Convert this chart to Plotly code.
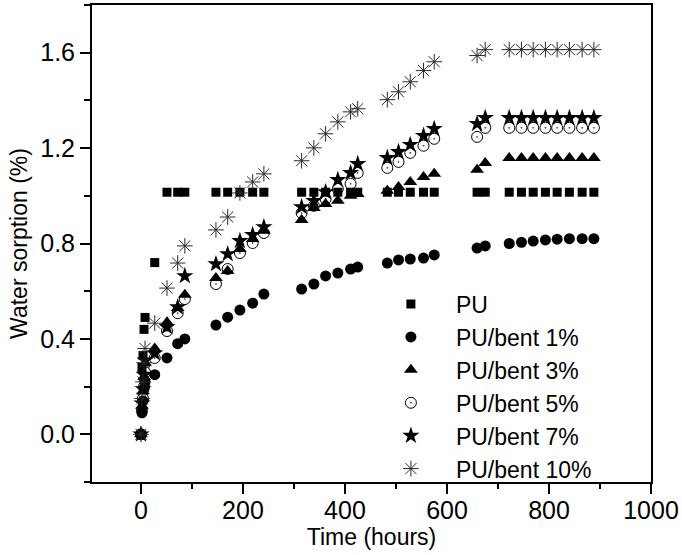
import plotly.graph_objects as go

# Time points (hours)
time_h = [0, 2, 4, 6, 8,
          27, 51, 72, 86,
          147, 170, 194, 219, 241,
          315, 339, 362, 386, 411, 425,
          483, 505, 528, 554, 575,
          659, 675,
          722, 746, 769, 793, 816, 840, 865, 888]

pu = [0, 0.28, 0.33, 0.44, 0.49,
      0.72, 1.015, 1.015, 1.015,
      1.015, 1.015, 1.015, 1.015, 1.015,
      1.015, 1.015, 1.015, 1.015, 1.015, 1.015,
      1.015, 1.015, 1.015, 1.015, 1.015,
      1.015, 1.015,
      1.015, 1.015, 1.015, 1.015, 1.015, 1.015, 1.015, 1.015]

bent1 = [0, 0.09, 0.14, 0.19, 0.22,
         0.25, 0.32, 0.38, 0.40,
         0.458, 0.491, 0.521, 0.550, 0.588,
         0.609, 0.630, 0.664, 0.676, 0.693, 0.701,
         0.718, 0.731, 0.735, 0.739, 0.752,
         0.781, 0.79,
         0.80, 0.805, 0.81, 0.815, 0.818, 0.82, 0.82, 0.82]

bent3 = [0, 0.12, 0.18, 0.24, 0.30,
         0.36, 0.47, 0.53, 0.585,
         0.655, 0.685, 0.777, 0.819, 0.853,
         0.899, 0.949, 0.966, 0.979, 1.0, 1.008,
         1.021, 1.037, 1.058, 1.079, 1.092,
         1.109, 1.138,
         1.159, 1.159, 1.159, 1.159, 1.159, 1.159, 1.159, 1.159]

bent5 = [0, 0.10, 0.15, 0.20, 0.26,
         0.32, 0.433, 0.508, 0.567,
         0.630, 0.693, 0.760, 0.802, 0.844,
         0.928, 0.958, 0.987, 1.029, 1.050, 1.096,
         1.117, 1.142, 1.180, 1.210, 1.239,
         1.247, 1.285,
         1.285, 1.285, 1.285, 1.285, 1.285, 1.285, 1.285, 1.285]

bent7 = [0, 0.13, 0.19, 0.25, 0.31,
         0.34, 0.45, 0.533, 0.664,
         0.714, 0.756, 0.811, 0.836, 0.869,
         0.953, 0.979, 1.016, 1.067, 1.096, 1.134,
         1.159, 1.184, 1.214, 1.252, 1.281,
         1.302, 1.327,
         1.327, 1.327, 1.327, 1.327, 1.327, 1.327, 1.327, 1.327]

bent10 = [0, 0.15, 0.22, 0.30, 0.36,
          0.466, 0.613, 0.718, 0.79,
          0.857, 0.911, 1.012, 1.058, 1.092,
          1.147, 1.201, 1.26, 1.31, 1.352, 1.365,
          1.403, 1.436, 1.478, 1.525, 1.562,
          1.588, 1.613,
          1.613, 1.613, 1.613, 1.613, 1.613, 1.613, 1.613, 1.613]

x_ticks = [0, 200, 400, 600, 800, 1000]
y_ticks = [0.0, 0.4, 0.8, 1.2, 1.6]
y_ticklabels = ["0.0", "0.4", "0.8", "1.2", "1.6"]

FONT = "Arial, Liberation Sans, sans-serif"

series = [
    ("PU", pu, dict(symbol="square", size=9, color="black")),
    ("PU/bent 1%", bent1, dict(symbol="circle", size=11, color="black")),
    ("PU/bent 3%", bent3, dict(symbol="triangle-up", size=12, color="black")),
    ("PU/bent 5%", bent5, dict(symbol="circle-open-dot", size=11, color="black",
                              line=dict(width=1, color="black"))),
    ("PU/bent 7%", bent7, dict(symbol="star", size=13, color="black")),
    ("PU/bent 10%", bent10, dict(symbol="asterisk-open", size=13, color="#2a2a2a",
                                line=dict(width=1, color="#2a2a2a"))),
]

fig = go.Figure()
for i, (name, vals, mk) in enumerate(series):
    fig.add_trace(go.Scatter(x=time_h, y=vals, mode="markers", name=name,
                             marker=mk, legendgroup=f"g{i}"))

axis_common = dict(showline=True, linewidth=2, linecolor="black", mirror=True,
                   ticks="outside", ticklen=10, tickwidth=2, tickcolor="black",
                   showgrid=False, zeroline=False, automargin=False,
                   tickfont=dict(family=FONT, size=25, color="black"))

fig.update_xaxes(range=[-96, 1000], tickvals=x_ticks, ticklabelstandoff=-5,
                 minor=dict(ticks="outside", ticklen=5, tickwidth=2, tickcolor="black", dtick=100, tick0=0),
                 title=dict(text="Time (hours)", font=dict(family=FONT, size=23, color="black"), standoff=2),
                 **axis_common)
fig.update_yaxes(range=[-0.2, 1.8], tickvals=y_ticks, ticktext=y_ticklabels,
                 minor=dict(ticks="outside", ticklen=6, tickwidth=2, tickcolor="black", dtick=0.2, tick0=0),
                 title=dict(text="Water sorption (%)", font=dict(family=FONT, size=23, color="black"), standoff=6),
                 **axis_common)

fig.update_layout(
    width=682, height=555,
    margin=dict(l=92, r=31, t=5, b=73),
    paper_bgcolor="white", plot_bgcolor="white",
    showlegend=True,
    legend=dict(x=0.49, y=0.418, xanchor="left", yanchor="top",
                font=dict(family=FONT, size=23, color="black"),
                bgcolor="rgba(0,0,0,0)", itemwidth=80, tracegroupgap=0,
                traceorder="normal"),
)

fig.write_html("out.html", config={"displayModeBar": False},
               post_script="document.body.style.margin='0px';")
